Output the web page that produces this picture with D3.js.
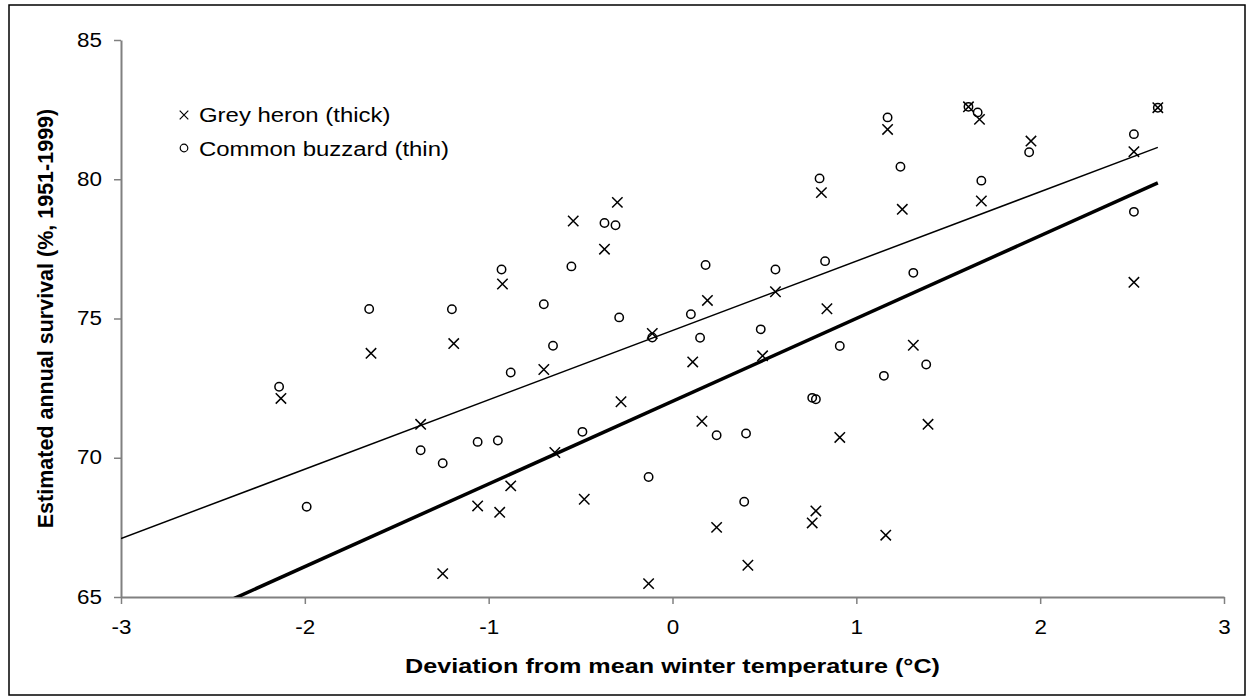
<!DOCTYPE html>
<html>
<head>
<meta charset="utf-8">
<script src="https://cdn.jsdelivr.net/npm/d3@7"></script>
<style>
  body { margin: 0; background: #fff; }
  svg { display: block; font-family: "Liberation Sans", Arial, sans-serif; }
</style>
</head>
<body>
<div id="chart"></div>
<script>
// Grey heron points (crosses)
const heronTemp = [-2.13, -1.64, -1.37, -1.25, -1.19, -1.06, -0.94, -0.925, -0.88, -0.70, -0.64,
  -0.54, -0.48, -0.37, -0.30, -0.28, -0.13, -0.11, 0.11, 0.16, 0.19, 0.24, 0.41, 0.49, 0.56,
  0.76, 0.78, 0.81, 0.84, 0.91, 1.16, 1.17, 1.25, 1.31, 1.39, 1.61, 1.67, 1.68, 1.95, 2.51, 2.51, 2.64];
const heronSurvival = [72.13, 73.75, 71.2, 65.84, 74.1, 68.27, 68.04, 76.24, 68.99, 73.17, 70.19,
  78.5, 68.51, 77.49, 79.17, 72.01, 65.48, 74.46, 73.44, 71.31, 75.65, 67.5, 66.14, 73.66, 75.96,
  67.66, 68.09, 79.52, 75.35, 70.73, 67.22, 81.79, 78.92, 74.04, 71.2, 82.6, 82.15, 79.22, 81.37, 80.99, 76.3, 82.57];

// Common buzzard points (circles)
const buzzardTemp = [-2.14, -1.99, -1.65, -1.37, -1.25, -1.20, -1.06, -0.95, -0.93, -0.88, -0.70,
  -0.65, -0.55, -0.49, -0.37, -0.31, -0.29, -0.13, -0.11, 0.10, 0.15, 0.18, 0.24, 0.39, 0.40,
  0.48, 0.56, 0.76, 0.78, 0.80, 0.83, 0.91, 1.15, 1.17, 1.24, 1.31, 1.38, 1.61, 1.66, 1.68,
  1.94, 2.51, 2.51, 2.64];
const buzzardSurvival = [72.55, 68.24, 75.34, 70.27, 69.8, 75.33, 70.57, 70.62, 76.76, 73.06, 75.51,
  74.02, 76.87, 70.93, 78.43, 78.35, 75.04, 69.31, 74.32, 75.15, 74.31, 76.92, 70.81, 68.42, 70.87,
  74.61, 76.76, 72.15, 72.1, 80.03, 77.06, 74.01, 72.94, 82.22, 80.45, 76.64, 73.35, 82.6, 82.4, 79.95,
  80.97, 81.62, 78.83, 82.57];

// regression lines: heron (thick), buzzard (thin)
const fitNames = ["Grey heron (thick)", "Common buzzard (thin)"];
const fitIntercept = [72.03, 74.57];
const fitSlope = [2.97, 2.49];
const fitRange = [-3, 2.64];

const xTicks = [-3, -2, -1, 0, 1, 2, 3];
const yTicks = [65, 70, 75, 80, 85];

const width = 1253, height = 700;
const margin = {top: 40, right: 29, bottom: 103, left: 121};
const innerW = width - margin.left - margin.right;
const innerH = height - margin.top - margin.bottom;
const stretch = 1.15;

const svg = d3.select("#chart").append("svg")
  .attr("width", width)
  .attr("height", height);

// outer frame
svg.append("rect")
  .attr("x", 9).attr("y", 5)
  .attr("width", 1236).attr("height", 690)
  .attr("fill", "none")
  .attr("stroke", "#000")
  .attr("stroke-width", 1.5);

const g = svg.append("g")
  .attr("transform", "translate(" + margin.left + "," + margin.top + ")");

const x = d3.scaleLinear().domain([-3, 3]).range([0, innerW]);
const y = d3.scaleLinear().domain([65, 85]).range([innerH, 0]);

g.append("clipPath").attr("id", "plotclip")
  .append("rect").attr("width", innerW).attr("height", innerH);

// axes
const xAxis = g.append("g")
  .attr("transform", "translate(0," + innerH + ")")
  .call(d3.axisBottom(x).tickValues(xTicks).tickFormat(d3.format("d"))
    .tickSize(7).tickSizeOuter(0).tickPadding(16));
const yAxis = g.append("g")
  .call(d3.axisLeft(y).tickValues(yTicks).tickSize(7).tickSizeOuter(0).tickPadding(9.5));

[xAxis, yAxis].forEach(a => {
  a.select(".domain").attr("stroke", "#808080").attr("stroke-width", 2);
  a.selectAll(".tick line").attr("stroke", "#808080").attr("stroke-width", 1.5);
  a.selectAll(".tick text")
    .attr("fill", "#000")
    .style("font-size", "19.5px")
    .style("font-family", "'Liberation Sans', Arial, sans-serif")
    .attr("transform", "scale(" + stretch + ",1)");
});
xAxis.selectAll(".tick text").text(d => d3.format("d")(d).replace("−", "-"));

// fitted lines
const lines = g.append("g").attr("clip-path", "url(#plotclip)");
fitNames.forEach((name, i) => {
  const pts = fitRange.map(t => [t, fitIntercept[i] + fitSlope[i] * t]);
  lines.append("path")
    .datum(pts)
    .attr("d", d3.line().x(d => x(d[0])).y(d => y(d[1])))
    .attr("fill", "none")
    .attr("stroke", "#000")
    .attr("stroke-width", i === 0 ? 3.5 : 1.5);
});

// buzzard circles
g.append("g").selectAll("circle")
  .data(buzzardTemp.map((t, i) => [t, buzzardSurvival[i]]))
  .enter()
  .append("circle")
  .attr("cx", d => x(d[0]))
  .attr("cy", d => y(d[1]))
  .attr("r", 4.2)
  .attr("fill", "none")
  .attr("stroke", "#000")
  .attr("stroke-width", 1.5);

// heron crosses
const cross = s => "M" + (-s) + "," + (-s) + "L" + s + "," + s + "M" + (-s) + "," + s + "L" + s + "," + (-s);
g.append("g").selectAll("path")
  .data(heronTemp.map((t, i) => [t, heronSurvival[i]]))
  .enter()
  .append("path")
  .attr("transform", d => "translate(" + x(d[0]) + "," + y(d[1]) + ")")
  .attr("d", cross(5.2))
  .attr("fill", "none")
  .attr("stroke", "#000")
  .attr("stroke-width", 1.5);

// legend
const legend = svg.append("g").attr("transform", "translate(184,115)");
legend.append("path").attr("d", cross(4.3))
  .attr("stroke", "#000").attr("stroke-width", 1.2).attr("fill", "none");
legend.append("circle").attr("cy", 33).attr("r", 3.8)
  .attr("stroke", "#000").attr("stroke-width", 1.2).attr("fill", "none");
fitNames.forEach((name, i) => {
  legend.append("text")
    .attr("transform", "translate(15," + (7 + i * 34) + ") scale(1.14,1)")
    .style("font-size", "21px")
    .text(name);
});

// axis titles
svg.append("text")
  .attr("transform", "translate(" + (margin.left + x(0)) + ",673) scale(1.2,1)")
  .attr("text-anchor", "middle")
  .style("font-size", "21px")
  .style("font-weight", "bold")
  .text("Deviation from mean winter temperature (°C)");

svg.append("text")
  .attr("transform", "translate(53," + (margin.top + innerH / 2) + ") rotate(-90)")
  .attr("text-anchor", "middle")
  .style("font-size", "21.5px")
  .style("font-weight", "bold")
  .text("Estimated annual survival (%, 1951-1999)");
</script>
</body>
</html>
